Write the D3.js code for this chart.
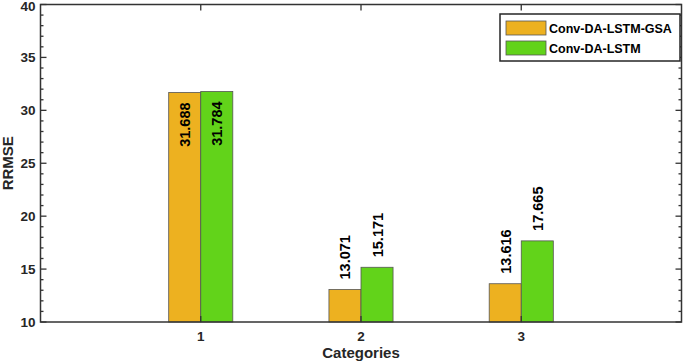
<!DOCTYPE html>
<html>
<head>
<meta charset="utf-8">
<script src="https://d3js.org/d3.v7.min.js"></script>
<style>
  body { margin: 0; background: #fff; }
  text { font-family: "Liberation Sans", Arial, sans-serif; font-weight: bold; }
</style>
</head>
<body>
<div id="chart"></div>
<script>
// data
var categories = [1, 2, 3];
var seriesNames = ["Conv-DA-LSTM-GSA", "Conv-DA-LSTM"];
var gsaValues = [31.688, 13.071, 13.616];
var lstmValues = [31.784, 15.171, 17.665];
var yTicks = [10, 15, 20, 25, 30, 35, 40];
var colors = ["#EDB120", "#62D31A"];

var width = 685, height = 362;
var margin = { top: 4.5, right: 3.5, bottom: 40, left: 40.5 };

var svg = d3.select("#chart").append("svg")
    .attr("width", width)
    .attr("height", height);

var x = d3.scaleLinear().domain([0, 4]).range([margin.left, width - margin.right]);
var y = d3.scaleLinear().domain([10, 40]).range([height - margin.bottom, margin.top]);

var barW = x(0.2) - x(0);
var series = [gsaValues, lstmValues];

// bars
series.forEach(function (vals, s) {
    svg.append("g")
        .selectAll("rect")
        .data(vals)
        .enter()
        .append("rect")
        .attr("x", function (d, i) { return s == 0 ? x(categories[i]) - barW : x(categories[i]); })
        .attr("y", function (d) { return y(d); })
        .attr("width", barW)
        .attr("height", function (d) { return y(10) - y(d); })
        .attr("fill", colors[s])
        .attr("stroke", "#555")
        .attr("stroke-width", 0.8);
});

// value labels (inside the bar if it would run off the top)
series.forEach(function (vals, s) {
    svg.append("g")
        .selectAll("text")
        .data(vals)
        .enter()
        .append("text")
        .attr("transform", function (d, i) {
            var cx = (s == 0 ? x(categories[i]) - barW / 2 : x(categories[i]) + barW / 2) + 5.5;
            var inside = d > 28;
            var ty = inside ? y(d) + 10 : y(d) - 10;
            return "translate(" + cx + "," + ty + ") rotate(-90)";
        })
        .attr("text-anchor", function (d) { return d > 28 ? "end" : "start"; })
        .style("font-size", "14.5px")
        .attr("fill", "#000")
        .text(function (d) { return d.toFixed(3); });
});

// axes: box with inward ticks
var axisColor = "#333";
var yMinor = d3.range(10, 41, 1);
var x0 = x(0), x1 = x(4), yTop = y(40), yBot = y(10);

var ticks = svg.append("g").attr("stroke", axisColor).attr("stroke-width", 1.3);
yMinor.forEach(function (v) {
    var len = v % 5 == 0 ? 6 : 3;
    ticks.append("line").attr("x1", x0).attr("x2", x0 + len).attr("y1", y(v)).attr("y2", y(v));
    ticks.append("line").attr("x1", x1).attr("x2", x1 - len).attr("y1", y(v)).attr("y2", y(v));
});
categories.forEach(function (c) {
    ticks.append("line").attr("x1", x(c)).attr("x2", x(c)).attr("y1", yBot).attr("y2", yBot - 6);
    ticks.append("line").attr("x1", x(c)).attr("x2", x(c)).attr("y1", yTop).attr("y2", yTop + 6);
});

svg.append("rect")
    .attr("x", x0).attr("y", yTop)
    .attr("width", x1 - x0).attr("height", yBot - yTop)
    .attr("fill", "none")
    .attr("stroke", axisColor)
    .attr("stroke-width", 1.5);

// tick labels (top one nudged down so it stays on the page)
svg.append("g").selectAll("text")
    .data(yTicks).enter().append("text")
    .attr("x", x0 - 5)
    .attr("y", function (d) { return Math.max(y(d) + 5, 11); })
    .attr("text-anchor", "end")
    .style("font-size", "13.5px")
    .attr("fill", "#262626")
    .text(function (d) { return d; });

svg.append("g").selectAll("text")
    .data(categories).enter().append("text")
    .attr("x", function (d) { return x(d); })
    .attr("y", yBot + 19)
    .attr("text-anchor", "middle")
    .style("font-size", "13.5px")
    .attr("fill", "#262626")
    .text(function (d) { return d; });

// axis titles
svg.append("text")
    .attr("x", (x0 + x1) / 2)
    .attr("y", 358)
    .attr("text-anchor", "middle")
    .style("font-size", "15px")
    .attr("fill", "#262626")
    .text("Categories");

svg.append("text")
    .attr("transform", "translate(13," + ((yTop + yBot) / 2) + ") rotate(-90)")
    .attr("text-anchor", "middle")
    .style("font-size", "15px")
    .attr("fill", "#262626")
    .text("RRMSE");

// legend
var lg = svg.append("g").attr("transform", "translate(500,14)");
lg.append("rect")
    .attr("width", 180).attr("height", 47)
    .attr("fill", "#fff")
    .attr("stroke", "#262626")
    .attr("stroke-width", 1.5);
seriesNames.forEach(function (name, i) {
    lg.append("rect")
        .attr("x", 6).attr("y", 7 + i * 20)
        .attr("width", 40).attr("height", 14)
        .attr("fill", colors[i])
        .attr("stroke", "#555")
        .attr("stroke-width", 0.8);
    lg.append("text")
        .attr("x", 49).attr("y", 18.5 + i * 20)
        .style("font-size", "12.5px")
        .attr("fill", "#000")
        .text(name);
});
</script>
</body>
</html>
